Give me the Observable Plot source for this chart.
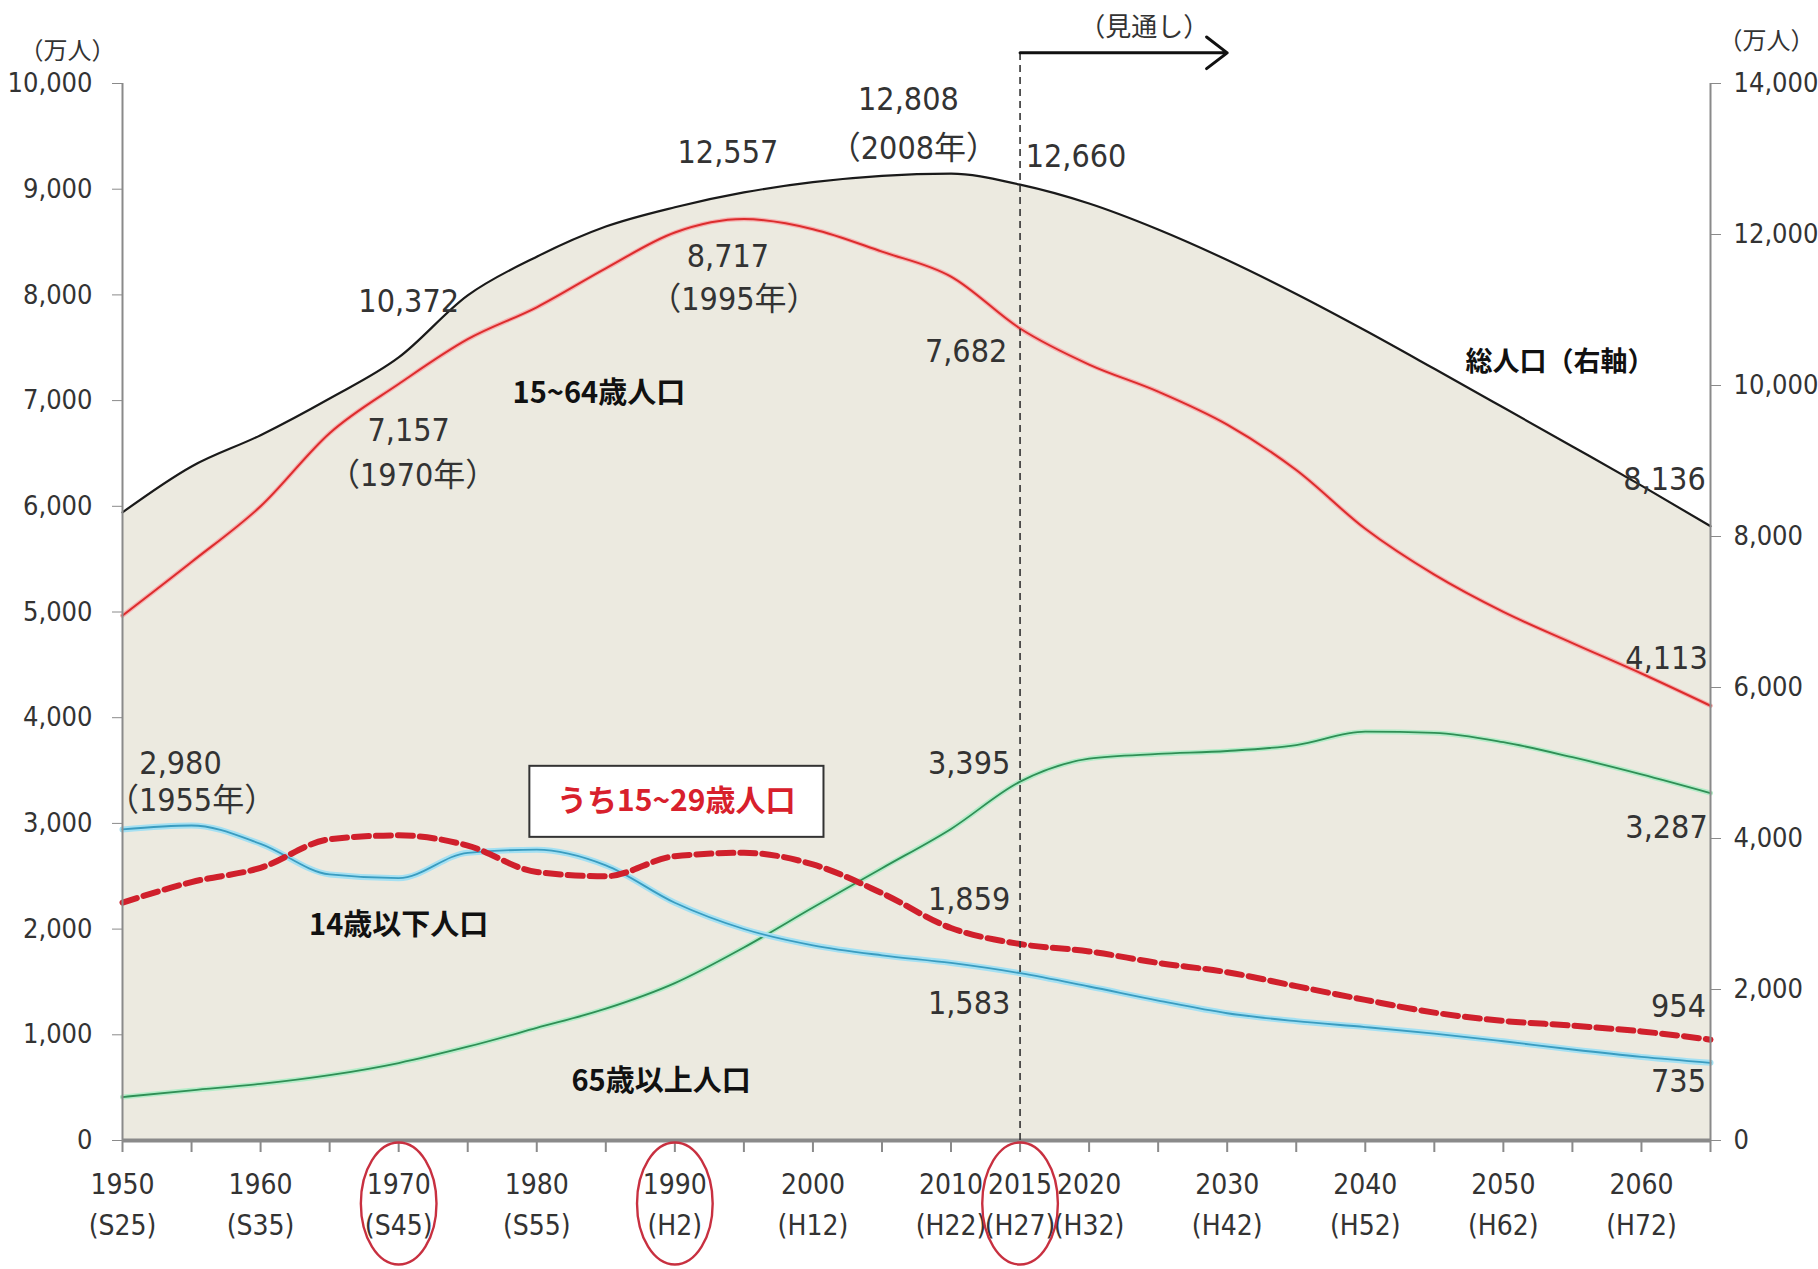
<!DOCTYPE html>
<html><head><meta charset="utf-8">
<script src="https://cdn.jsdelivr.net/npm/d3@7"></script>
<script src="https://cdn.jsdelivr.net/npm/@observablehq/plot@0.6"></script>
<style>
body{margin:0;background:#fff;}
#chart svg{display:block}
</style></head><body><div id="chart"></div>
<script>
// ---- data (万人) ----
const years      = [1950,1955,1960,1965,1970,1975,1980,1985,1990,1995,2000,2005,2010,2015,2020,2025,2030,2035,2040,2045,2050,2055,2060,2065];
const total      = [8320,8928,9342,9828,10372,11194,11706,12105,12361,12557,12693,12777,12806,12660,12410,12066,11662,11212,10728,10221,9708,9193,8674,8136];
const age15to64  = [4966,5473,6000,6692,7157,7581,7883,8251,8590,8717,8622,8409,8173,7682,7341,7085,6773,6343,5787,5353,5001,4706,4418,4113];
const age0to14   = [2943,2980,2807,2517,2482,2722,2751,2603,2249,2001,1847,1752,1680,1583,1457,1324,1204,1129,1073,1012,939,861,791,735];
const age65plus  = [411,475,535,618,733,887,1065,1247,1489,1826,2204,2576,2948,3395,3612,3657,3685,3741,3868,3856,3768,3626,3464,3287];
const age15to29  = [2250,2445,2580,2850,2887,2790,2540,2500,2690,2722,2612,2340,2010,1859,1789,1680,1592,1460,1330,1210,1131,1087,1032,954];

const xTickYears = [1950,1960,1970,1980,1990,2000,2010,2015,2020,2030,2040,2050,2060];
const xTickEras  = ["(S25)","(S35)","(S45)","(S55)","(H2)","(H12)","(H22)","(H27)","(H32)","(H42)","(H52)","(H62)","(H72)"];
const minorTickYears = [1950,1955,1960,1965,1970,1975,1980,1985,1990,1995,2000,2005,2010,2015,2020,2025,2030,2035,2040,2045,2050,2055,2060,2065];
const leftTicks  = [0,1000,2000,3000,4000,5000,6000,7000,8000,9000,10000];
const rightTicks = [0,2000,4000,6000,8000,10000,12000,14000];
const circledYears = [1970,1990,2015];
const forecast = {start: 2015, end: 2030, label: "（見通し）"};

// value annotations: year, value, which axis, text
const valueLabels = [
  {year:1970, value:10372, axis:"right", text:"10,372"},
  {year:1995, value:12557, axis:"right", text:"12,557"},
  {year:2008, value:12808, axis:"right", text:"12,808"},
  {year:2008, value:12808, axis:"right", text:"（2008年）"},
  {year:2015, value:12660, axis:"right", text:"12,660"},
  {year:2065, value:8136,  axis:"right", text:"8,136"},
  {year:1995, value:8717,  axis:"left",  text:"8,717"},
  {year:1995, value:8717,  axis:"left",  text:"（1995年）"},
  {year:2015, value:7682,  axis:"left",  text:"7,682"},
  {year:1970, value:7157,  axis:"left",  text:"7,157"},
  {year:1970, value:7157,  axis:"left",  text:"（1970年）"},
  {year:2065, value:4113,  axis:"left",  text:"4,113"},
  {year:2015, value:3395,  axis:"left",  text:"3,395"},
  {year:2065, value:3287,  axis:"left",  text:"3,287"},
  {year:1955, value:2980,  axis:"left",  text:"2,980"},
  {year:1955, value:2980,  axis:"left",  text:"（1955年）"},
  {year:2015, value:1859,  axis:"left",  text:"1,859"},
  {year:2015, value:1583,  axis:"left",  text:"1,583"},
  {year:2065, value:954,   axis:"left",  text:"954"},
  {year:2065, value:735,   axis:"left",  text:"735"}
];
const seriesNames = ["15~64歳人口","総人口（右軸）","14歳以下人口","65歳以上人口","うち15~29歳人口"];

// ---- layout (pixel offsets / placements) ----
const labelOffsets = [[10,-56],[-16,-40],[-15,-74],[-10,-25],[56,-28],[-46,-46],[-16,38],[-10,81],[-54,23],[10,47],[14,92],[-44,-47],[-51,-18],[-44,35],[-11,-62],[0,-25],[-51,-44],[-51,31],[-32,-33],[-32,19]];
const seriesNamePos = [[1984.5,7061],[2054.1,7364],[1970,2035],[1989,558],[1990.1,3209]];
const seriesNameSize = [29,27,29,29,30];
const boxPos = {x1:1979.5, x2:2000.8, y1:2868, y2:3540};
const arrowLevel = 10290, forecastLabelPos = [2024.0, 10530];

const ratio = rightTicks[rightTicks.length-1] / leftTicks[leftTicks.length-1];
const table = years.map((year,i)=>({year, total: total[i]/ratio, a1564: age15to64[i], a014: age0to14[i], a65: age65plus[i], a1529: age15to29[i]}));
const eraByYear = new Map(xTickYears.map((y,i)=>[y, xTickEras[i]]));
const fmt = d3.format(",");
const NUM = "'Liberation Sans Narrow','DejaVu Sans Condensed','Liberation Sans','Noto Sans CJK JP',sans-serif";
const JP = "'Noto Sans CJK JP','Noto Sans',sans-serif";
const curve = "monotone-x";

const ellipseSymbol = {draw(ctx, size){
  const r = Math.sqrt(size/Math.PI), rx = r*0.62, ry = r, k = 0.5523;
  ctx.moveTo(rx,0);
  ctx.bezierCurveTo(rx, ry*k, rx*k, ry, 0, ry);
  ctx.bezierCurveTo(-rx*k, ry, -rx, ry*k, -rx, 0);
  ctx.bezierCurveTo(-rx, -ry*k, -rx*k, -ry, 0, -ry);
  ctx.bezierCurveTo(rx*k, -ry, rx, -ry*k, rx, 0);
  ctx.closePath();
}};

const labelMarks = valueLabels.map((l,i)=>Plot.text([l], {
  x:"year", y: d => d.axis==="right" ? d.value/ratio : d.value, text:"text",
  dx: labelOffsets[i][0], dy: labelOffsets[i][1],
  fontSize: 32, fontFamily: NUM, fill:"#333", textAnchor:"middle",
  style: {fontFeatureSettings: "'palt'"}
}));

const nameMarks = seriesNames.map((t,i)=>Plot.text([t], {
  x: ()=>seriesNamePos[i][0], y: ()=>seriesNamePos[i][1], text: d=>d,
  fontSize: seriesNameSize[i], fontWeight: 700, fontFamily: JP,
  fill: i===4 ? "#D8202C" : "#111", style:{fontFeatureSettings:"'palt'"}
}));

const chart = Plot.plot({
  width: 1818, height: 1269,
  marginLeft: 122, marginRight: 108, marginTop: 83, marginBottom: 129,
  x: {domain: [1950, 2065]},
  y: {domain: [0, 10000]},
  style: {fontFamily: NUM, background: "white", color: "#333", overflow: "visible"},
  marks: [
    Plot.areaY(table, {x:"year", y:"total", fill:"#ECEAE0", curve}),
    // 65+
    Plot.lineY(table, {x:"year", y:"a65", stroke:"#b4ecc8", strokeWidth:5, curve}),
    Plot.lineY(table, {x:"year", y:"a65", stroke:"#2f8f55", strokeWidth:1.8, curve}),
    // 0-14
    Plot.lineY(table, {x:"year", y:"a014", stroke:"#a4e0f2", strokeWidth:6, curve}),
    Plot.lineY(table, {x:"year", y:"a014", stroke:"#3a9cc0", strokeWidth:1.8, curve}),
    // 15-29 dashed
    Plot.lineY(table, {x:"year", y:"a1529", stroke:"#D0202C", strokeWidth:6, strokeDasharray:"15,7", curve}),
    // 15-64
    Plot.lineY(table, {x:"year", y:"a1564", stroke:"#f6b0b0", strokeWidth:4.5, curve}),
    Plot.lineY(table, {x:"year", y:"a1564", stroke:"#dc2c2c", strokeWidth:2, curve}),
    // total (right axis)
    Plot.lineY(table, {x:"year", y:"total", stroke:"#1a1a1a", strokeWidth:2.2, curve}),
    // axes lines
    Plot.ruleX([1950], {stroke:"#8a8a8a", strokeWidth:2}),
    Plot.ruleX([2065], {stroke:"#8a8a8a", strokeWidth:2}),
    Plot.axisY({anchor:"left", ticks: leftTicks, tickSize:10, tickPadding:20, tickFormat: fmt, fontSize:27, label:null, stroke:"#8a8a8a", fill:"#333"}),
    Plot.axisY({anchor:"right", ticks: rightTicks.map(v=>v/ratio), tickSize:10, tickPadding:13, tickFormat: d=>fmt(Math.round(d*ratio)), fontSize:27, label:null, stroke:"#8a8a8a", fill:"#333"}),
    Plot.axisX({anchor:"bottom", ticks: minorTickYears, tickSize:12, tickFormat: ()=>"", label:null, stroke:"#8a8a8a", strokeWidth:2}),
    Plot.axisX({anchor:"bottom", ticks: xTickYears, tickSize:0, tickPadding:25, tickFormat: d=>`${d}\n${eraByYear.get(d)}`, fontSize:28, lineHeight:1.45, label:null, fill:"#333"}),
    Plot.ruleY([0], {stroke:"#8a8a8a", strokeWidth:4}),
    // forecast
    Plot.ruleX([forecast.start], {y1:0, y2:arrowLevel, stroke:"#333", strokeWidth:1.6, strokeDasharray:"7,5"}),
    Plot.arrow([forecast], {x1:"start", x2:"end", y1:()=>arrowLevel, y2:()=>arrowLevel, stroke:"#111", strokeWidth:3, headLength:13, headAngle:75}),
    Plot.text([forecast], {x:()=>forecastLabelPos[0], y:()=>forecastLabelPos[1], text:"label", fontSize:26, fontFamily:JP, fill:"#333", style:{fontFeatureSettings:"'palt'"}}),
    // unit labels
    Plot.text(["（万人）"], {frameAnchor:"top-left", dx:-55, dy:-42, text:d=>d, fontSize:24, fontFamily:JP, fill:"#333", textAnchor:"middle", style:{fontFeatureSettings:"'palt'"}}),
    Plot.text(["（万人）"], {frameAnchor:"top-right", dx:56, dy:-52, text:d=>d, fontSize:24, fontFamily:JP, fill:"#333", textAnchor:"middle", style:{fontFeatureSettings:"'palt'"}}),
    // box for 15-29 label
    Plot.rect([boxPos], {x1:"x1", x2:"x2", y1:"y1", y2:"y2", fill:"white", stroke:"#333", strokeWidth:2}),
    // series names
    ...nameMarks,
    ...labelMarks,
    // circled years
    Plot.dot(circledYears, {x:d=>d, frameAnchor:"bottom", dy:63, r:61, symbol: ellipseSymbol, stroke:"#C83040", strokeWidth:2.4, fill:"none"})
  ]
});
document.getElementById("chart").appendChild(chart);
</script></body></html>
